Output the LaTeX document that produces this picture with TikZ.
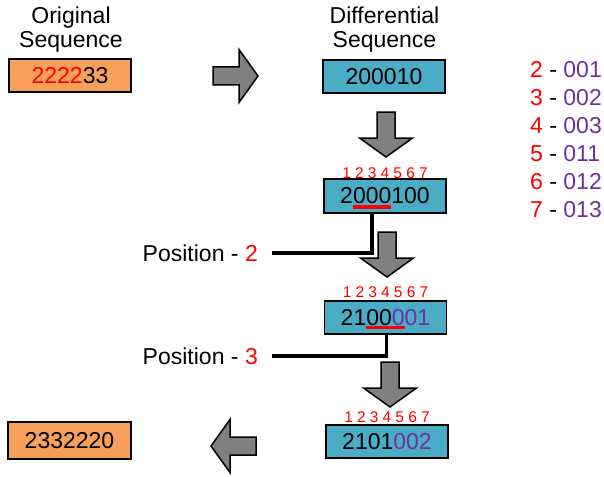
\documentclass[tikz,border=0pt]{standalone}
\usepackage{fontspec}
\setmainfont{Liberation Sans}
\usetikzlibrary{positioning}
\definecolor{seqorange}{HTML}{F7A05B}
\definecolor{seqblue}{HTML}{4BACC6}
\definecolor{codepurple}{HTML}{7030A0}
\begin{document}
\begin{tikzpicture}[x=1pt,y=-1pt,
  every node/.style={font=\fontsize{23}{24}\selectfont,inner sep=0pt},
  origbox/.style={draw,line width=1.5pt,fill=seqorange,minimum width=122pt,minimum height=33pt},
  diffbox/.style={origbox,fill=seqblue},
  idx/.style={font=\fontsize{15.5}{15.5}\selectfont,text=red},
  ul/.style={draw=red,line width=3.5pt},
  conn/.style={line width=3.5pt},
  blockarrow/.pic={\draw[line width=1.5pt,fill=gray] (0,-9)--(26,-9)--(26,-26.5)--(45,0)--(26,26.5)--(26,9)--(0,9)--cycle;}]
\useasboundingbox (0,0) rectangle (604,476);
% titles
\node[align=center] (origtitle) at (71,30) {Original\\Sequence};
\node[align=center] (difftitle) at (384.5,30) {Differential\\Sequence};
% boxes
\node[origbox] (o1) at (70,75.5) {{\color{red}2222}33};
\node[diffbox] (b1) at (384,76.5) {200010};
\node[diffbox,minimum height=34pt] (b2) at (385,196) {2000100};
\node[diffbox] (b3) at (385.5,317.5) {2100{\color{codepurple}001}};
\node[diffbox] (b4) at (387,441.5) {2101{\color{codepurple}002}};
\node[origbox,minimum height=37pt,minimum width=123pt] (o2) at (69.5,440.5) {2332220};
% digit positions
\foreach \i in {1,...,7}{
  \node[idx] (n2-\i) at ({385+(\i-4)*12.8},173) {\i};
  \node[idx] (n3-\i) at ({385.5+(\i-4)*12.8},292) {\i};
  \node[idx] (n4-\i) at ({387+(\i-4)*12.8},417) {\i};
}
% underlines
\draw[ul] ({385-32},207) -- ({385+6.4},207);
\draw[ul] ({385.5-19.2},327.5) -- ({385.5+19.2},327.5);
\coordinate (u2) at (372.2,207);
\coordinate (u3) at (386.5,327.5);
% positions
\node[anchor=east] (pos2) at (258,253) {Position - {\color{red}2}};
\node[anchor=east] (pos3) at (258,356) {Position - {\color{red}3}};
\draw[conn,shorten >=14pt] (b2.south -| u2) |- (pos2.east);
\draw[conn,shorten >=14pt] (b3.south -| u3) |- (pos3.east);
% block arrows
\pic at (213,76) {blockarrow};
\pic[rotate=-90] at (386,112) {blockarrow};
\pic[rotate=-90] at (387,232) {blockarrow};
\pic[rotate=-90] at (390,362) {blockarrow};
\pic[rotate=180] at (256,446) {blockarrow};
% key
\foreach \d/\c [count=\k from 0] in {2/001,3/002,4/003,5/011,6/012,7/013}
  \node[anchor=west] (key\d) at (530,{70+28*\k}) {{\color{red}\d} - {\color{codepurple}\c}};
\end{tikzpicture}
\end{document}
